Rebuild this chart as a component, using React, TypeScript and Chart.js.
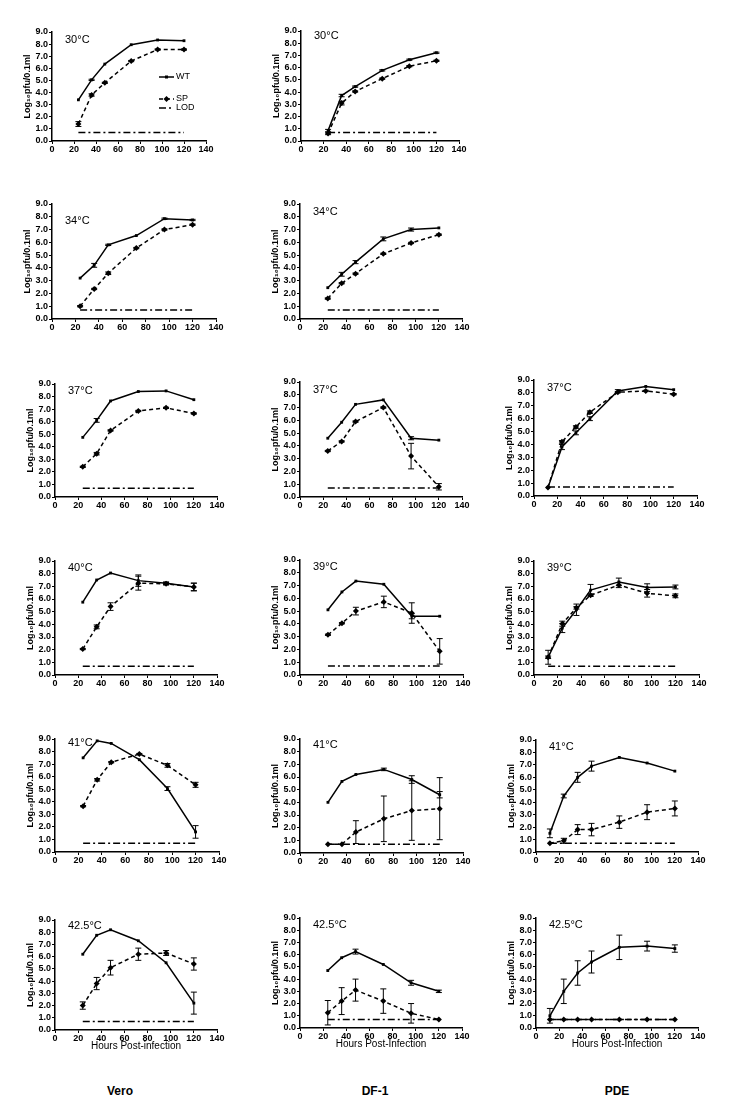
import React, { useEffect, useRef } from "react";
import { Chart, registerables } from "chart.js";

Chart.register(...registerables);
Chart.defaults.font.family = "'Liberation Sans', Arial, sans-serif";
Chart.defaults.color = "#000";

// ---------- data ----------
const HOURS_6 = [24, 36, 48, 72, 96, 120];
const HOURS_7 = [12, 24, 36, 48, 72, 96, 120];
const LOD = 0.7;
const X_MIN = 0;
const X_MAX = 140;
const X_STEP = 20;
const Y_MIN = 0;
const Y_MAX = 9;
const Y_STEP = 1;
const Y_TITLE = "Log₁₀pfu/0.1ml";
const SERIES_NAMES = ["WT", "SP", "LOD"];
const CELL_LINES = ["Vero", "DF-1", "PDE"];
const X_TITLES = ["Hours Post-infection", "Hours Post-Infection", "Hours Post-Infection"];

// Vero
const vero30WT = [3.4, 5.05, 6.35, 7.95, 8.34, 8.28];
const vero30WTErr = [0, 0.05, 0, 0, 0, 0];
const vero30SP = [1.4, 3.8, 4.8, 6.6, 7.55, 7.55];
const vero30SPErr = [0.2, 0.1, 0.05, 0.05, 0.05, 0.05];

const vero34WT = [3.2, 4.2, 5.8, 6.53, 7.85, 7.75];
const vero34WTErr = [0, 0.15, 0.05, 0, 0.05, 0.05];
const vero34SP = [1.0, 2.35, 3.58, 5.55, 7.0, 7.38];
const vero34SPErr = [0.05, 0.05, 0.1, 0.05, 0.05, 0.05];

const vero37WT = [4.75, 6.1, 7.65, 8.4, 8.45, 7.75];
const vero37WTErr = [0, 0.15, 0, 0, 0, 0];
const vero37SP = [2.4, 3.45, 5.3, 6.85, 7.1, 6.65];
const vero37SPErr = [0.05, 0.1, 0.05, 0.05, 0.05, 0.05];

const vero40WT = [5.75, 7.5, 8.05, 7.45, 7.25, 6.95];
const vero40WTErr = [0, 0, 0, 0.45, 0.1, 0.3];
const vero40SP = [2.05, 3.8, 5.4, 7.25, 7.2, 6.95];
const vero40SPErr = [0.05, 0.15, 0.3, 0.55, 0.1, 0.3];

const vero41WT = [7.5, 8.85, 8.65, 7.35, 5.05, 1.6];
const vero41WTErr = [0, 0, 0, 0, 0.15, 0.5];
const vero41SP = [3.65, 5.75, 7.15, 7.8, 6.9, 5.35];
const vero41SPErr = [0.05, 0.1, 0.05, 0.05, 0.15, 0.2];

const vero425WT = [6.2, 7.75, 8.2, 7.3, 5.5, 2.2];
const vero425WTErr = [0, 0, 0, 0, 0, 0.9];
const vero425SP = [2.0, 3.8, 5.1, 6.2, 6.3, 5.4];
const vero425SPErr = [0.3, 0.5, 0.6, 0.5, 0.2, 0.5];

// DF-1
const df30WT = [0.85, 3.72, 4.45, 5.78, 6.65, 7.22];
const df30WTErr = [0.1, 0.1, 0.05, 0.05, 0.05, 0.05];
const df30SP = [0.62, 3.1, 4.05, 5.1, 6.12, 6.56];
const df30SPErr = [0.1, 0.15, 0.05, 0.05, 0.05, 0.05];

const df34WT = [2.45, 3.5, 4.45, 6.27, 7.0, 7.13];
const df34WTErr = [0, 0.15, 0.12, 0.15, 0.12, 0];
const df34SP = [1.6, 2.8, 3.55, 5.1, 5.95, 6.6];
const df34SPErr = [0.05, 0.05, 0.05, 0.05, 0.05, 0.05];

const df37WT = [4.6, 5.85, 7.25, 7.6, 4.6, 4.45];
const df37WTErr = [0, 0, 0, 0, 0.12, 0];
const df37SP = [3.6, 4.35, 5.9, 7.0, 3.2, 0.8];
const df37SPErr = [0.05, 0.05, 0.05, 0.05, 1.0, 0.25];

const df39WT = [5.1, 6.5, 7.35, 7.1, 4.6, 4.6];
const df39WTErr = [0, 0, 0, 0, 0.2, 0];
const df39SP = [3.15, 4.05, 5.0, 5.72, 4.85, 1.85];
const df39SPErr = [0.05, 0.05, 0.3, 0.45, 0.8, 1.0];

const df41WT = [4.0, 5.65, 6.2, 6.6, 5.8, 4.6];
const df41WTErr = [0, 0, 0, 0.1, 0.3, 0.25];
const df41SP = [0.7, 0.7, 1.65, 2.7, 3.35, 3.5];
const df41SPErr = [0, 0, 0.9, 1.8, 2.35, 2.45];

const df425WT = [4.7, 5.75, 6.25, 5.2, 3.7, 3.0];
const df425WTErr = [0, 0, 0.2, 0, 0.2, 0.1];
const df425SP = [1.25, 2.2, 3.1, 2.2, 1.2, 0.7];
const df425SPErr = [1.0, 1.1, 0.9, 1.0, 0.8, 0];

// PDE
const pde37WT = [0.65, 3.8, 4.9, 6.0, 8.15, 8.5, 8.25];
const pde37WTErr = [0, 0.2, 0.15, 0.15, 0.1, 0, 0];
const pde37SP = [0.65, 4.2, 5.35, 6.5, 8.05, 8.15, 7.9];
const pde37SPErr = [0, 0.1, 0.1, 0.1, 0.05, 0.05, 0.05];

const pde39WT = [1.4, 3.7, 5.15, 6.7, 7.35, 6.9, 6.95];
const pde39WTErr = [0.55, 0.35, 0.45, 0.45, 0.3, 0.3, 0.15];
const pde39SP = [1.4, 4.05, 5.3, 6.3, 7.1, 6.45, 6.25];
const pde39SPErr = [0.1, 0.2, 0.1, 0.1, 0.2, 0.3, 0.15];

const pde41WT = [1.5, 4.5, 6.0, 6.9, 7.6, 7.15, 6.5];
const pde41WTErr = [0.35, 0.15, 0.4, 0.4, 0, 0, 0];
const pde41SP = [0.7, 0.9, 1.8, 1.8, 2.4, 3.2, 3.5];
const pde41SPErr = [0, 0.2, 0.4, 0.5, 0.5, 0.6, 0.6];

const pde425WT = [1.0, 3.0, 4.5, 5.4, 6.6, 6.7, 6.5];
const pde425WTErr = [0.6, 1.0, 1.0, 0.9, 1.0, 0.4, 0.3];
const pde425SP = [0.7, 0.7, 0.7, 0.7, 0.7, 0.7, 0.7];
const pde425SPErr = [0, 0, 0, 0, 0, 0, 0];

// ---------- layout ----------
type PanelDef = {
  title: string;
  hours: number[];
  wt: number[];
  wtErr: number[];
  sp: number[];
  spErr: number[];
  box: [number, number, number, number]; // left, right, top, bottom of plot area
  xTitle?: string;
  legend?: boolean;
  labelDy?: number;
};

const PANELS: PanelDef[] = [
  { title: "30°C", hours: HOURS_6, wt: vero30WT, wtErr: vero30WTErr, sp: vero30SP, spErr: vero30SPErr, box: [52, 206, 32, 141], legend: true, labelDy: 8 },
  { title: "30°C", hours: HOURS_6, wt: df30WT, wtErr: df30WTErr, sp: df30SP, spErr: df30SPErr, box: [301, 459, 31, 141], labelDy: 5 },
  { title: "34°C", hours: HOURS_6, wt: vero34WT, wtErr: vero34WTErr, sp: vero34SP, spErr: vero34SPErr, box: [52, 216, 204, 319], labelDy: 17 },
  { title: "34°C", hours: HOURS_6, wt: df34WT, wtErr: df34WTErr, sp: df34SP, spErr: df34SPErr, box: [300, 462, 204, 319], labelDy: 8 },
  { title: "37°C", hours: HOURS_6, wt: vero37WT, wtErr: vero37WTErr, sp: vero37SP, spErr: vero37SPErr, box: [55, 217, 384, 497], labelDy: 7 },
  { title: "37°C", hours: HOURS_6, wt: df37WT, wtErr: df37WTErr, sp: df37SP, spErr: df37SPErr, box: [300, 462, 382, 497], labelDy: 8 },
  { title: "37°C", hours: HOURS_7, wt: pde37WT, wtErr: pde37WTErr, sp: pde37SP, spErr: pde37SPErr, box: [534, 697, 380, 496], labelDy: 8 },
  { title: "40°C", hours: HOURS_6, wt: vero40WT, wtErr: vero40WTErr, sp: vero40SP, spErr: vero40SPErr, box: [55, 217, 561, 675], labelDy: 7 },
  { title: "39°C", hours: HOURS_6, wt: df39WT, wtErr: df39WTErr, sp: df39SP, spErr: df39SPErr, box: [300, 463, 560, 675], labelDy: 7 },
  { title: "39°C", hours: HOURS_7, wt: pde39WT, wtErr: pde39WTErr, sp: pde39SP, spErr: pde39SPErr, box: [534, 699, 561, 675], labelDy: 7 },
  { title: "41°C", hours: HOURS_6, wt: vero41WT, wtErr: vero41WTErr, sp: vero41SP, spErr: vero41SPErr, box: [55, 219, 739, 852], labelDy: 4 },
  { title: "41°C", hours: HOURS_6, wt: df41WT, wtErr: df41WTErr, sp: df41SP, spErr: df41SPErr, box: [300, 463, 739, 853], labelDy: 6 },
  { title: "41°C", hours: HOURS_7, wt: pde41WT, wtErr: pde41WTErr, sp: pde41SP, spErr: pde41SPErr, box: [536, 698, 740, 852], labelDy: 7 },
  { title: "42.5°C", hours: HOURS_6, wt: vero425WT, wtErr: vero425WTErr, sp: vero425SP, spErr: vero425SPErr, box: [55, 217, 920, 1030], xTitle: X_TITLES[0], labelDy: 6 },
  { title: "42.5°C", hours: HOURS_6, wt: df425WT, wtErr: df425WTErr, sp: df425SP, spErr: df425SPErr, box: [300, 462, 918, 1028], xTitle: X_TITLES[1], labelDy: 7 },
  { title: "42.5°C", hours: HOURS_7, wt: pde425WT, wtErr: pde425WTErr, sp: pde425SP, spErr: pde425SPErr, box: [536, 698, 918, 1028], xTitle: X_TITLES[2], labelDy: 7 },
];

const CELL_LABEL_X = [120, 375, 617];
const PAD_LEFT = 50;
const PAD_TOP = 15;
const PAD_RIGHT = 20;
const X_AXIS_H = 30;

const WT_STYLE = { borderWidth: 1.5, borderDash: [] as number[], pointStyle: "rect", pointRadius: 2 };
const SP_STYLE = { borderWidth: 1.5, borderDash: [4, 3], pointStyle: "rectRot", pointRadius: 3 };
const LOD_STYLE = { borderWidth: 1.5, borderDash: [7, 3, 2, 3], pointStyle: false as any, pointRadius: 0 };

const errorBarPlugin = {
  id: "errorBars",
  afterDatasetsDraw(chart: any) {
    const ctx = chart.ctx;
    const yScale = chart.scales.y;
    ctx.save();
    ctx.strokeStyle = "#000";
    ctx.lineWidth = 1;
    ctx.setLineDash([]);
    chart.data.datasets.forEach((ds: any, i: number) => {
      if (!ds.errors) return;
      const meta = chart.getDatasetMeta(i);
      ds.data.forEach((pt: any, j: number) => {
        const e = ds.errors[j];
        if (!e) return;
        const el = meta.data[j];
        if (!el) return;
        const x = el.x;
        const y1 = yScale.getPixelForValue(pt.y + e);
        const y2 = yScale.getPixelForValue(pt.y - e);
        ctx.beginPath();
        ctx.moveTo(x, y1);
        ctx.lineTo(x, y2);
        ctx.moveTo(x - 3, y1);
        ctx.lineTo(x + 3, y1);
        ctx.moveTo(x - 3, y2);
        ctx.lineTo(x + 3, y2);
        ctx.stroke();
      });
    });
    ctx.restore();
  },
};

function PanelChart({ p }: { p: PanelDef }) {
  const ref = useRef<HTMLCanvasElement | null>(null);
  const [l, r, t, b] = p.box;
  const w = r - l + PAD_LEFT + PAD_RIGHT;
  const h = b - t + PAD_TOP + X_AXIS_H;

  useEffect(() => {
    if (!ref.current) return;
    const textPlugin = {
      id: "panelText",
      afterDraw(chart: any) {
        const ctx = chart.ctx;
        const a = chart.chartArea;
        ctx.save();
        ctx.fillStyle = "#000";
        ctx.font = "11px 'Liberation Sans', Arial, sans-serif";
        ctx.textBaseline = "middle";
        ctx.textAlign = "left";
        ctx.fillText(p.title, a.left + 13, a.top + (p.labelDy ?? 7));
        if (p.legend) {
          const styles = [WT_STYLE, SP_STYLE, LOD_STYLE];
          const dys = [45, 67, 76];
          styles.forEach((s, k) => {
            const y = a.top + dys[k];
            const x1 = a.left + 107;
            const x2 = a.left + 122;
            ctx.strokeStyle = "#000";
            ctx.lineWidth = s.borderWidth;
            ctx.setLineDash(s.borderDash);
            ctx.beginPath();
            ctx.moveTo(x1, y);
            ctx.lineTo(x2, y);
            ctx.stroke();
            ctx.setLineDash([]);
            const cx = (x1 + x2) / 2;
            if (k === 0) {
              ctx.fillRect(cx - 1.5, y - 1.5, 3, 3);
            } else if (k === 1) {
              ctx.beginPath();
              ctx.moveTo(cx, y - 3);
              ctx.lineTo(cx + 3, y);
              ctx.lineTo(cx, y + 3);
              ctx.lineTo(cx - 3, y);
              ctx.closePath();
              ctx.fill();
            }
            ctx.font = "9px 'Liberation Sans', Arial, sans-serif";
            ctx.fillText(SERIES_NAMES[k], x2 + 2, y);
          });
        }
        ctx.restore();
      },
    };

    const tickFont = { size: 9, weight: "bold" as const };
    const chart = new Chart(ref.current, {
      type: "line",
      data: {
        datasets: [
          {
            label: SERIES_NAMES[0],
            data: p.hours.map((x, i) => ({ x, y: p.wt[i] })),
            errors: p.wtErr,
            borderColor: "#000",
            backgroundColor: "#000",
            pointBackgroundColor: "#000",
            pointBorderColor: "#000",
            pointBorderWidth: 0,
            tension: 0,
            ...WT_STYLE,
          } as any,
          {
            label: SERIES_NAMES[1],
            data: p.hours.map((x, i) => ({ x, y: p.sp[i] })),
            errors: p.spErr,
            borderColor: "#000",
            backgroundColor: "#000",
            pointBackgroundColor: "#000",
            pointBorderColor: "#000",
            pointBorderWidth: 0,
            tension: 0,
            ...SP_STYLE,
          } as any,
          {
            label: SERIES_NAMES[2],
            data: [
              { x: p.hours[0], y: LOD },
              { x: p.hours[p.hours.length - 1], y: LOD },
            ],
            borderColor: "#000",
            backgroundColor: "#000",
            tension: 0,
            ...LOD_STYLE,
          } as any,
        ],
      },
      options: {
        animation: false,
        responsive: false,
        maintainAspectRatio: false,
        layout: { padding: { left: 0, top: PAD_TOP, right: PAD_RIGHT, bottom: 0 } },
        plugins: { legend: { display: false }, tooltip: { enabled: false } },
        scales: {
          x: {
            type: "linear",
            min: X_MIN,
            max: X_MAX,
            afterFit: (s: any) => {
              s.height = X_AXIS_H;
            },
            ticks: { stepSize: X_STEP, font: tickFont, color: "#000", padding: 0, maxRotation: 0, autoSkip: false },
            grid: { drawOnChartArea: false, tickLength: 3, color: "#000", lineWidth: 1 },
            border: { color: "#000", width: 1.5 },
            title: p.xTitle
              ? { display: true, text: p.xTitle, font: { size: 10 }, color: "#000", padding: { top: 0, bottom: 8 } }
              : { display: false },
          },
          y: {
            type: "linear",
            min: Y_MIN,
            max: Y_MAX,
            afterFit: (s: any) => {
              s.width = PAD_LEFT;
            },
            ticks: {
              stepSize: Y_STEP,
              autoSkip: false,
              font: tickFont,
              color: "#000",
              padding: 1,
              callback: (v: any) => Number(v).toFixed(1),
            },
            grid: { drawOnChartArea: false, tickLength: 3, color: "#000", lineWidth: 1 },
            border: { color: "#000", width: 1.5 },
            title: { display: true, text: Y_TITLE, font: { size: 9, weight: "bold" }, color: "#000", padding: { top: 20, bottom: 0 } },
          },
        },
      } as any,
      plugins: [errorBarPlugin, textPlugin],
    });
    return () => chart.destroy();
  }, [p]);

  return (
    <canvas
      ref={ref}
      width={w}
      height={h}
      style={{ position: "absolute", left: l - PAD_LEFT, top: t - PAD_TOP, width: w, height: h }}
    />
  );
}

export default function App() {
  return (
    <div
      style={{
        position: "absolute",
        left: 0,
        top: 0,
        width: 750,
        height: 1111,
        background: "#fff",
        fontFamily: "'Liberation Sans', Arial, sans-serif",
        overflow: "hidden",
      }}
    >
      {PANELS.map((p, i) => (
        <PanelChart key={i} p={p} />
      ))}
      {CELL_LINES.map((name, i) => (
        <div
          key={name}
          style={{
            position: "absolute",
            left: CELL_LABEL_X[i] - 40,
            width: 80,
            top: 1084,
            textAlign: "center",
            fontWeight: "bold",
            fontSize: 12,
            color: "#000",
          }}
        >
          {name}
        </div>
      ))}
    </div>
  );
}
